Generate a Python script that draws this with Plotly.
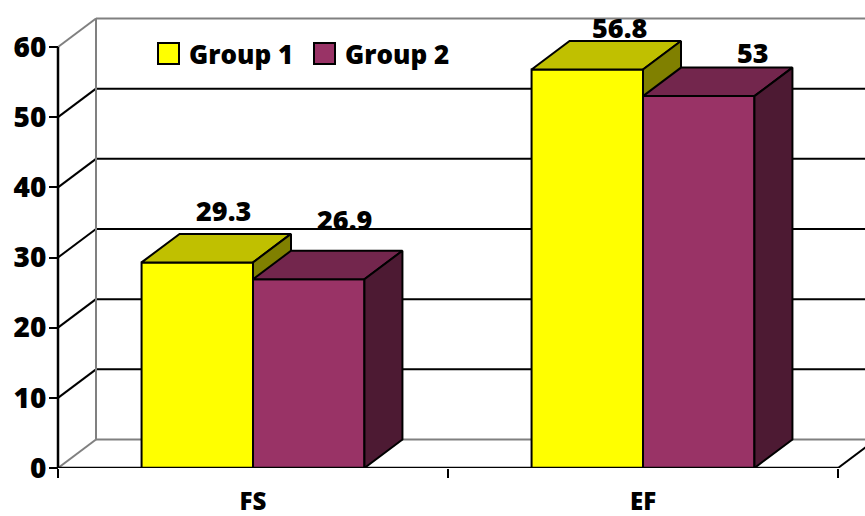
import plotly.graph_objects as go

# ---- data -------------------------------------------------------------
categories = ["FS", "EF"]
group_names = ["Group 1", "Group 2"]
group1 = [29.3, 56.8]
group2 = [26.9, 53.0]
y_ticks = [0, 10, 20, 30, 40, 50, 60]

# ---- look -------------------------------------------------------------
FONT = "Open Sans"
WEIGHT = 800
FACE = {  # front, top, side shades of each series
    "Group 1": ("#FFFF00", "#C0C000", "#808000"),
    "Group 2": ("#993366", "#73264D", "#4D1A33"),
}
GRID = "#000000"
EDGE = "#808080"

# ---- geometry of the pseudo-3D frame ----------------------------------
W, H = 865, 516
ML, MB = 45, 48
PLOT_W, PLOT_H = W - ML, H - MB
PX_PER_CAT = 390.0
PX_PER_UNIT = 421.0 / 60.0
AXIS_X = -0.5                                   # left category boundary
X_LEFT = AXIS_X - (58 - ML) / PX_PER_CAT
X_RIGHT = X_LEFT + PLOT_W / PX_PER_CAT
Y_TOP = PLOT_H / PX_PER_UNIT
DX = 38.0 / PX_PER_CAT                          # depth offset, x units
DY = 28.5 / PX_PER_UNIT                         # depth offset, value units
BAR_W = 1 / 3.5                                 # gap width 150 %
X_END = AXIS_X + len(categories)


def px_x(p):
    return (p - ML) / PLOT_W


def px_y(p):
    return 1 - p / PLOT_H


fig = go.Figure()


def line(xs, ys, color, width, xaxis="x"):
    fig.add_trace(go.Scatter(x=xs, y=ys, mode="lines", xaxis=xaxis,
                             line=dict(color=color, width=width),
                             hoverinfo="skip", showlegend=False))


def face(xs, ys, color):
    fig.add_trace(go.Scatter(x=xs, y=ys, mode="lines", fill="toself",
                             fillcolor=color,
                             line=dict(color="#000000", width=2),
                             hoverinfo="skip", showlegend=False))


# back wall gridlines and left wall diagonals
for v in y_ticks:
    col = EDGE if v in (y_ticks[0], y_ticks[-1]) else GRID
    line([AXIS_X + DX, X_RIGHT + 1], [v + DY, v + DY], col, 2)
    line([AXIS_X, AXIS_X + DX], [v, v + DY], col, 2)
line([AXIS_X + DX, AXIS_X + DX], [y_ticks[0] + DY, y_ticks[-1] + DY], EDGE, 2)

# right edge of the floor
line([X_END, X_END + DX], [0, DY], GRID, 2)

# bars: front face, top face, right side face
series = [("Group 1", group1), ("Group 2", group2)]
label_pos = []
for i, cat in enumerate(categories):
    for g, (name, vals) in enumerate(series):
        front, top, side = FACE[name]
        v = vals[i]
        x0 = i - BAR_W + g * BAR_W
        x1 = x0 + BAR_W
        face([x0, x1, x1, x0, x0], [0, 0, v, v, 0], front)
        face([x0, x0 + DX, x1 + DX, x1, x0], [v, v + DY, v + DY, v, v], top)
        face([x1, x1 + DX, x1 + DX, x1, x1], [0, DY, v + DY, v, 0], side)
        label_pos.append(((x0 + x1) / 2 + DX, v + DY, v))

# front value axis and front floor edge
line([AXIS_X, AXIS_X], [y_ticks[0], y_ticks[-1]], "#000000", 2.5)
line([AXIS_X, X_END], [0, 0], "#000000", 2.5, xaxis="x2")

# value labels above the bars
label_shift = [(-12, 23), (-2, 31), (-6, 13), (16, 15)]
for (lx, ly, v), (sx, sy) in zip(label_pos, label_shift):
    fig.add_annotation(x=lx, y=ly, text=f"{v:g}", showarrow=False,
                       xanchor="center", yanchor="middle",
                       xshift=sx, yshift=sy,
                       font=dict(family=FONT, size=27, color="#000000", weight=WEIGHT))

# legend
legend_x = [158, 314]
for name, lx in zip(group_names, legend_x):
    fig.add_shape(type="rect", xref="paper", yref="paper",
                  x0=px_x(lx), x1=px_x(lx + 21), y0=px_y(64), y1=px_y(43),
                  fillcolor=FACE[name][0], line=dict(color="#000000", width=2))
    fig.add_annotation(xref="paper", yref="paper", x=px_x(lx + 29), y=px_y(54),
                       text=name, showarrow=False, xanchor="left", yanchor="middle",
                       font=dict(family=FONT, size=26, color="#000000", weight=WEIGHT))

fig.update_layout(
    width=W, height=H,
    margin=dict(l=ML, r=0, t=0, b=MB, pad=0),
    paper_bgcolor="#FFFFFF", plot_bgcolor="#FFFFFF",
    showlegend=False,
    xaxis=dict(range=[X_LEFT, X_RIGHT], tickvals=[AXIS_X + k for k in range(len(categories) + 1)],
               ticktext=[""] * (len(categories) + 1), ticks="outside", ticklen=9,
               tickwidth=2, tickcolor="#000000", showgrid=False, zeroline=False,
               showline=False, fixedrange=True),
    xaxis2=dict(range=[X_LEFT, X_RIGHT], overlaying="x", anchor="y", side="bottom",
                tickvals=list(range(len(categories))), ticktext=categories, ticks="",
                ticklabelstandoff=17, showgrid=False, zeroline=False, showline=False,
                tickfont=dict(family=FONT, size=24, color="#000000", weight=WEIGHT)),
    yaxis=dict(range=[0, Y_TOP], anchor="free", position=(58 - ML) / PLOT_W,
               tickvals=y_ticks, ticks="outside", ticklen=9, tickwidth=2,
               tickcolor="#000000", showgrid=False, zeroline=False, showline=False,
               ticklabelstandoff=-3,
               tickfont=dict(family=FONT, size=28, color="#000000", weight=WEIGHT)),
)

fig.write_html("out.html")
